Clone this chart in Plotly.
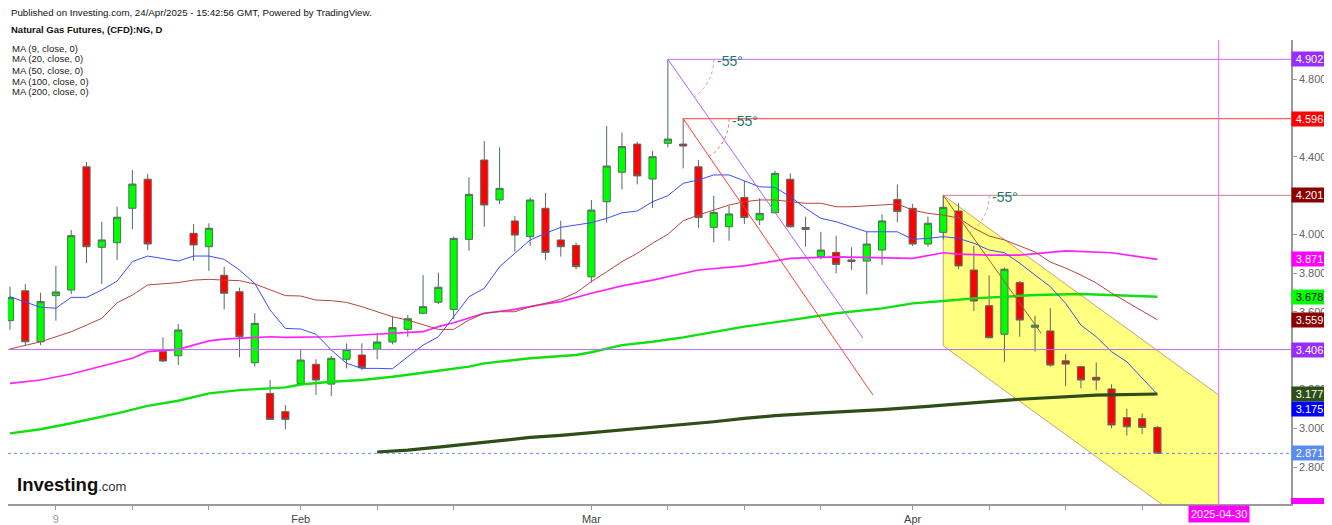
import math
import pandas as pd
import plotly.graph_objects as go

# ---------------- data ----------------
holidays = ["2025-01-20", "2025-02-17", "2025-04-18"]
trading_days = [d.strftime("%Y-%m-%d") for d in pd.bdate_range("2025-01-06", "2025-04-30")
                if d.strftime("%Y-%m-%d") not in holidays]
pos = {d: i for i, d in enumerate(trading_days)}
candle_days = trading_days[:76]

open_ = [3.555, 3.709, 3.446, 3.684, 3.713, 4.348, 3.933, 3.957, 4.134, 4.284,
         3.395, 3.374, 4.005, 3.936, 3.789, 3.704, 3.338, 3.180, 3.086, 3.231,
         3.330, 3.228, 3.356, 3.378, 3.407, 3.445, 3.510, 3.593, 3.650, 3.613,
         3.974, 4.383, 4.177, 4.069, 3.988, 4.134, 3.971, 3.943, 3.781, 4.168,
         4.320, 4.465, 4.285, 4.469, 4.465, 4.348, 4.036, 4.039, 4.190, 4.074,
         4.111, 4.284, 4.035, 3.885, 3.907, 3.868, 3.862, 3.919, 4.180, 4.134,
         3.950, 4.010, 4.120, 3.816, 3.632, 3.485, 3.751, 3.521, 3.502, 3.348,
         3.318, 3.263, 3.203, 3.055, 3.050, 3.005]
high = [3.730, 3.744, 3.699, 3.837, 4.022, 4.373, 4.065, 4.142, 4.331, 4.311,
        3.469, 3.538, 4.053, 4.057, 3.833, 3.725, 3.593, 3.249, 3.120, 3.409,
        3.356, 3.373, 3.438, 3.438, 3.490, 3.575, 3.584, 3.790, 3.802, 3.988,
        4.294, 4.481, 4.448, 4.094, 4.189, 4.214, 4.070, 3.957, 4.177, 4.558,
        4.524, 4.477, 4.429, 4.902, 4.596, 4.383, 4.199, 4.146, 4.275, 4.186,
        4.328, 4.314, 4.091, 4.013, 3.993, 3.933, 4.013, 4.103, 4.258, 4.156,
        4.091, 4.201, 4.160, 3.940, 3.789, 3.828, 3.759, 3.580, 3.619, 3.383,
        3.320, 3.340, 3.227, 3.101, 3.077, 3.012]
low = [3.507, 3.429, 3.429, 3.555, 3.692, 3.851, 3.744, 3.868, 4.026, 3.919,
       3.342, 3.326, 3.864, 3.812, 3.613, 3.366, 3.318, 3.043, 2.995, 3.227,
       3.172, 3.166, 3.309, 3.300, 3.356, 3.433, 3.472, 3.589, 3.641, 3.562,
       3.915, 4.039, 4.156, 3.910, 3.941, 3.868, 3.885, 3.820, 3.751, 4.060,
       4.232, 4.258, 4.137, 4.448, 4.340, 4.034, 3.959, 3.967, 4.053, 4.048,
       4.108, 4.034, 3.936, 3.871, 3.799, 3.816, 3.691, 3.842, 4.062, 3.940,
       3.936, 3.974, 3.820, 3.605, 3.464, 3.342, 3.472, 3.395, 3.318, 3.218,
       3.206, 3.197, 3.000, 2.962, 2.971, 2.871]
close = [3.675, 3.446, 3.653, 3.703, 3.993, 3.936, 3.971, 4.088, 4.259, 3.950,
         3.347, 3.507, 3.945, 4.031, 3.696, 3.472, 3.541, 3.046, 3.046, 3.352,
         3.249, 3.361, 3.407, 3.312, 3.445, 3.519, 3.565, 3.627, 3.727, 3.979,
         4.206, 4.151, 4.237, 3.996, 4.177, 3.907, 3.936, 3.833, 4.125, 4.352,
         4.452, 4.301, 4.400, 4.491, 4.455, 4.086, 4.113, 4.105, 4.086, 4.108,
         4.314, 4.039, 4.025, 3.919, 3.845, 3.860, 3.950, 4.069, 4.117, 3.950,
         4.057, 4.139, 3.837, 3.656, 3.467, 3.820, 3.558, 3.532, 3.326, 3.331,
         3.249, 3.249, 3.017, 3.008, 3.005, 2.871]

ma9 = [3.678, 3.653, 3.624, 3.619, 3.675, 3.675, 3.713, 3.759, 3.859, 3.888,
       3.876, 3.862, 3.888, 3.888, 3.871, 3.816, 3.747, 3.610, 3.515, 3.512,
       3.485, 3.404, 3.335, 3.309, 3.309, 3.307, 3.369, 3.429, 3.472, 3.575,
       3.678, 3.722, 3.833, 3.902, 3.971, 4.005, 4.036, 4.048, 4.060, 4.082,
       4.111, 4.120, 4.168, 4.199, 4.263, 4.280, 4.306, 4.306, 4.276, 4.245,
       4.242, 4.194, 4.134, 4.082, 4.065, 4.039, 4.013, 4.013, 4.013, 3.974,
       3.979, 3.988, 3.979, 3.954, 3.919, 3.905, 3.851, 3.790, 3.730, 3.644,
       3.532, 3.472, 3.395, 3.343, 3.258, 3.175]
ma20 = [3.409, 3.426, 3.446, 3.472, 3.498, 3.532, 3.567, 3.647, 3.687, 3.739,
        3.744, 3.751, 3.764, 3.768, 3.764, 3.761, 3.744, 3.713, 3.684, 3.682,
        3.661, 3.658, 3.649, 3.627, 3.601, 3.575, 3.558, 3.532, 3.510, 3.510,
        3.558, 3.593, 3.601, 3.601, 3.627, 3.644, 3.665, 3.699, 3.756, 3.807,
        3.859, 3.902, 3.954, 4.000, 4.070, 4.099, 4.125, 4.151, 4.168, 4.177,
        4.177, 4.168, 4.160, 4.160, 4.142, 4.142, 4.146, 4.151, 4.156, 4.125,
        4.108, 4.099, 4.084, 4.032, 3.991, 3.971, 3.940, 3.909, 3.857, 3.826,
        3.790, 3.749, 3.697, 3.651, 3.605, 3.559]
ma50_days = ["2025-01-06", "2025-01-08", "2025-01-10", "2025-01-14", "2025-01-16", "2025-01-17",
             "2025-01-22", "2025-01-23", "2025-01-24", "2025-01-27", "2025-01-28", "2025-01-30",
             "2025-01-31", "2025-02-04", "2025-02-05", "2025-02-07", "2025-02-11", "2025-02-13",
             "2025-02-14", "2025-02-18", "2025-02-20", "2025-02-24", "2025-02-26", "2025-02-27",
             "2025-03-03", "2025-03-05", "2025-03-07", "2025-03-11", "2025-03-12", "2025-03-17",
             "2025-03-20", "2025-03-25", "2025-03-27", "2025-04-01", "2025-04-03", "2025-04-04",
             "2025-04-08", "2025-04-10", "2025-04-15", "2025-04-21", "2025-04-24"]
ma50 = [3.232, 3.249, 3.280, 3.321, 3.361, 3.395, 3.407, 3.429, 3.451, 3.460, 3.464, 3.472,
        3.469, 3.472, 3.472, 3.481, 3.490, 3.498, 3.524, 3.544, 3.593, 3.613, 3.641, 3.653,
        3.696, 3.734, 3.764, 3.799, 3.816, 3.837, 3.876, 3.884, 3.881, 3.876, 3.905, 3.898,
        3.893, 3.893, 3.915, 3.905, 3.871]
ma100_days = ["2025-01-06", "2025-01-08", "2025-01-10", "2025-01-14", "2025-01-15", "2025-01-17",
              "2025-01-22", "2025-01-24", "2025-01-28", "2025-01-30", "2025-01-31", "2025-02-03",
              "2025-02-05", "2025-02-07", "2025-02-11", "2025-02-14", "2025-02-19", "2025-02-20",
              "2025-02-25", "2025-02-28", "2025-03-03", "2025-03-05", "2025-03-07", "2025-03-11",
              "2025-03-17", "2025-03-20", "2025-03-25", "2025-03-28", "2025-04-01", "2025-04-03",
              "2025-04-07", "2025-04-11", "2025-04-16", "2025-04-24"]
ma100 = [2.974, 2.995, 3.026, 3.060, 3.077, 3.116, 3.142, 3.180, 3.197, 3.206, 3.211, 3.226,
         3.240, 3.249, 3.266, 3.297, 3.318, 3.335, 3.361, 3.378, 3.392, 3.429, 3.446, 3.469,
         3.524, 3.558, 3.593, 3.618, 3.644, 3.656, 3.670, 3.687, 3.692, 3.678]
ma200_days = ["2025-02-10", "2025-02-12", "2025-02-14", "2025-02-20", "2025-02-25", "2025-02-27",
              "2025-03-04", "2025-03-07", "2025-03-11", "2025-03-13", "2025-03-17", "2025-03-19",
              "2025-03-24", "2025-03-28", "2025-04-02", "2025-04-03", "2025-04-10", "2025-04-17",
              "2025-04-24"]
ma200 = [2.878, 2.888, 2.903, 2.928, 2.953, 2.964, 2.984, 3.007, 3.021, 3.034, 3.051, 3.065,
         3.080, 3.096, 3.113, 3.120, 3.150, 3.171, 3.177]

# drawings
hray_days = ["2025-03-10", "2025-03-11", "2025-04-03"]
hray_prices = [4.902, 4.596, 4.201]
hray_colors = ["#c98dff", "#ff6060", "#d39a9a"]
angle_end_pos = [55.75, 56.4, 67.4]
angle_end_prices = [3.465, 3.172, 3.490]
angle_colors = ["#b060ff", "#ff3b3b", "#b5503f"]
support_price = 3.406
last_price = 2.871
channel_days = ["2025-04-03", "2025-04-30"]
channel_top = [4.201, 3.172]
channel_bottom = [3.425, 2.396]
marker_day = "2025-04-30"

tag_values = [4.902, 4.596, 4.201, 3.871, 3.678, 3.559, 3.406, 3.177, 3.175, 2.871]
tag_bg = ["#9a2cff", "#ff0000", "#8b0000", "#ff00ff", "#00ff00", "#8b0000", "#9a2cff",
          "#2e4d17", "#0000ff", "#5b8def"]
tag_fg = ["white", "white", "white", "white", "black", "white", "white", "white", "white", "white"]
tag_shift = [0, 0, 0, 0, 0, 0, 0, 0, -15, 0]
price_ticks = [2.8, 3.0, 3.2, 3.6, 3.8, 4.0, 4.4, 4.8]

tick_days = ["2025-01-09", "2025-01-16", "2025-01-24", "2025-02-03", "2025-02-10", "2025-02-18",
             "2025-03-03", "2025-03-10", "2025-03-17", "2025-03-24", "2025-04-01", "2025-04-08",
             "2025-04-15", "2025-04-23", "2025-04-30"]
tick_labels = ["9", "", "", "Feb", "", "", "Mar", "", "", "", "Apr", "", "", "", ""]

# ---------------- figure ----------------
# page is offset by the 8px body margin of the html page
OFF = 8
W, H = 1332 - OFF, 525 - OFF
PL, PR, PT, PB = 8, 1291, 40, 504          # plot area edges in page pixels
ML, MR, MT, MB = PL - OFF, W - (PR - OFF), PT - OFF, H - (PB - OFF)
XR = [-0.13, 83.73]
YR = [2.610, 5.0015]
px_per_bar = (PR - PL) / (XR[1] - XR[0])
px_per_unit = (PB - PT) / (YR[1] - YR[0])
FONT = "Arial, Liberation Sans, sans-serif"

cx = [pos[d] for d in candle_days]
fig = go.Figure()

fig.add_trace(go.Candlestick(
    x=cx, open=open_, high=high, low=low, close=close,
    increasing=dict(fillcolor="#00ff00", line=dict(color="#4e6d5c", width=1)),
    decreasing=dict(fillcolor="#ff0000", line=dict(color="#5e6a60", width=1)),
    whiskerwidth=0, hoverinfo="skip", showlegend=False))

def ma_trace(days, vals, color, width):
    fig.add_trace(go.Scatter(x=[pos[d] for d in days], y=vals, mode="lines",
                             line=dict(color=color, width=width), hoverinfo="skip",
                             showlegend=False))

ma_trace(ma200_days, ma200, "#2e4d17", 3.2)
ma_trace(ma100_days, ma100, "#10e010", 2.4)
ma_trace(ma50_days, ma50, "#ff22ff", 1.7)
ma_trace(candle_days, ma20, "#b5463c", 1)
ma_trace(candle_days, ma9, "#3b4dff", 1)

shapes = []
c0, c1 = pos[channel_days[0]], pos[channel_days[1]]
shapes.append(dict(type="path", layer="below",
                   path=f"M {c0},{channel_top[0]} L {c1},{channel_top[1]} L {c1},{channel_bottom[1]} L {c0},{channel_bottom[0]} Z",
                   fillcolor="#ffff80", line=dict(color="#c9a27a", width=1)))
shapes.append(dict(type="line", xref="paper", x0=0, x1=1, y0=support_price, y1=support_price,
                   line=dict(color="#b86cf5", width=1)))
shapes.append(dict(type="line", xref="paper", x0=0, x1=1, y0=last_price, y1=last_price,
                   line=dict(color="#5b8def", width=1, dash="dot")))
for d, p, hc, ep, epr, ac in zip(hray_days, hray_prices, hray_colors, angle_end_pos,
                                 angle_end_prices, angle_colors):
    x0 = pos[d]
    shapes.append(dict(type="line", x0=x0, x1=XR[1], y0=p, y1=p, line=dict(color=hc, width=1.2)))
    shapes.append(dict(type="line", x0=x0, x1=ep, y0=p, y1=epr, line=dict(color=ac, width=1)))
    r = 46
    pts = []
    for k in range(0, 12):
        a = math.radians(-55 * k / 11)
        pts.append((x0 + r * math.cos(a) / px_per_bar, p + r * math.sin(a) / px_per_unit))
    path = "M " + " L ".join(f"{a},{b}" for a, b in pts)
    shapes.append(dict(type="path", path=path, line=dict(color=hc, width=1, dash="dot")))

shapes.append(dict(type="line", x0=pos[marker_day], x1=pos[marker_day], yref="paper", y0=0, y1=1,
                   line=dict(color="#ff66ff", width=1)))
shapes.append(dict(type="rect", xref="paper", yref="paper", x0=1.0, x1=1 + 35 / (PR - PL),
                   y0=0, y1=6 / (PB - PT), fillcolor="#ff00ff", line=dict(width=0)))

def ppx(x):
    return (x - PL) / (PR - PL)

def ppy(y):
    return (PB - y) / (PB - PT)

annotations = []
for v, bg, fg, sh in zip(tag_values, tag_bg, tag_fg, tag_shift):
    annotations.append(dict(xref="paper", x=1, xanchor="left", y=v, yanchor="middle",
                            yshift=sh, text=f"{v:.3f}", showarrow=False, bgcolor=bg,
                            font=dict(color=fg, size=11, family=FONT),
                            width=33, height=12, borderpad=1, align="center"))
for d, p in zip(hray_days, hray_prices):
    annotations.append(dict(x=pos[d], y=p, xanchor="left", yanchor="middle", xshift=47, yshift=-2,
                            text="-55°", showarrow=False,
                            font=dict(color="#21776a", size=14, family=FONT)))
annotations.append(dict(x=pos[marker_day], yref="paper", y=0, yanchor="top", yshift=-1,
                        text="2025-04-30", showarrow=False, bgcolor="#ff00ff",
                        font=dict(color="white", size=11, family=FONT), borderpad=2))

annotations.append(dict(xref="paper", yref="paper", x=ppx(9), y=ppy(12), xanchor="left",
                        yanchor="middle", showarrow=False,
                        text="Published on Investing.com, 24/Apr/2025 - 15:42:56 GMT, Powered by TradingView.",
                        font=dict(size=9.7, color="#111", family=FONT)))
annotations.append(dict(xref="paper", yref="paper", x=ppx(9), y=ppy(30), xanchor="left",
                        yanchor="middle", showarrow=False,
                        text="<b>Natural Gas Futures, (CFD):NG, D</b>",
                        font=dict(size=9.5, color="#111", family=FONT)))
for k, n in enumerate([9, 20, 50, 100, 200]):
    annotations.append(dict(xref="paper", yref="paper", x=ppx(10), y=ppy(48 + 11 * k),
                            xanchor="left", yanchor="middle", showarrow=False,
                            text=f"MA ({n}, close, 0)",
                            font=dict(size=9.5, color="#222", family=FONT)))
annotations.append(dict(xref="paper", yref="paper", x=ppx(15), y=ppy(484), xanchor="left",
                        yanchor="middle", showarrow=False,
                        text="<b>Investing</b><span style='font-size:13px;color:#333'>.com</span>",
                        font=dict(size=18.5, color="#111", family=FONT)))

ticktext = ["<span style='color:#999'>9</span>" if t == "9" else t for t in tick_labels]

fig.update_layout(
    width=W, height=H, margin=dict(l=ML, r=MR, t=MT, b=MB, autoexpand=False),
    paper_bgcolor="white", plot_bgcolor="white",
    showlegend=False, boxgap=0.33, hovermode=False,
    shapes=shapes, annotations=annotations,
    xaxis=dict(range=XR, showgrid=False, zeroline=False, showline=True, linecolor="#9a9a9a",
               linewidth=1.5, ticks="outside", ticklen=4, tickcolor="#9a9a9a",
               tickvals=[pos[d] for d in tick_days], ticktext=ticktext,
               tickfont=dict(size=11, color="#444", family=FONT),
               rangeslider=dict(visible=False), fixedrange=True),
    yaxis=dict(range=YR, side="right", showgrid=False, zeroline=False, showline=True,
               linecolor="#9a9a9a", linewidth=1.5, ticks="outside", ticklen=4,
               tickcolor="#9a9a9a", tickvals=price_ticks,
               tickformat=".3f", tickfont=dict(size=11, color="#666", family=FONT),
               fixedrange=True),
)

fig.write_html("out.html")
